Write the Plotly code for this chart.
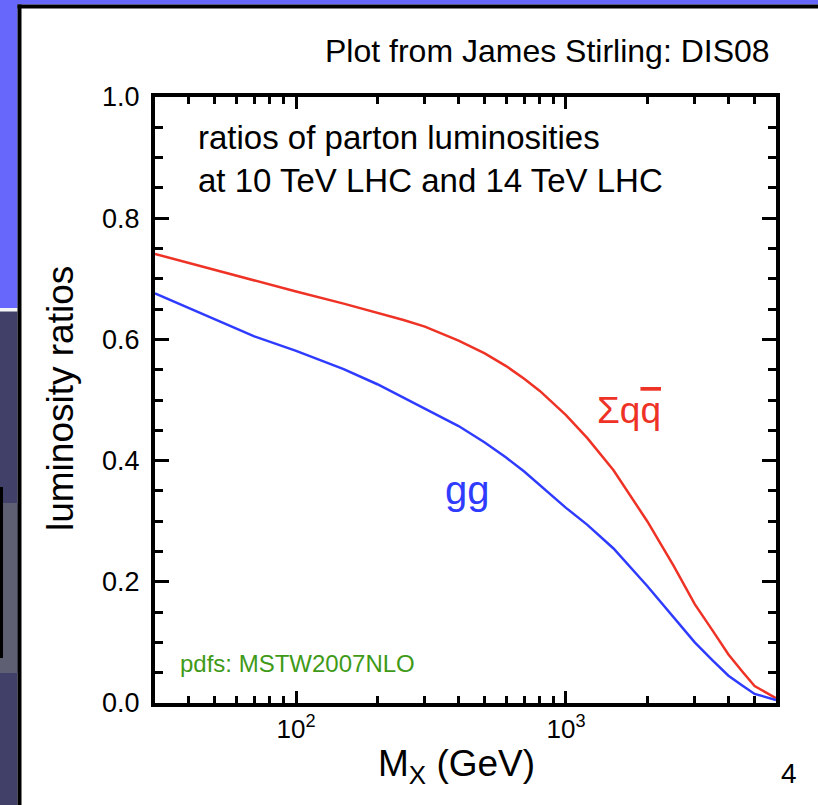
import plotly.graph_objects as go

# ---- data ----
mass_gev = [30, 40, 50, 70, 100, 150, 200, 250, 300, 400, 500, 600, 700, 800, 1000, 1200, 1500,
            2000, 2500, 3000, 3500, 4000, 4500, 5000, 6000]
ratio_qqbar = [0.741, 0.726, 0.714, 0.697, 0.679, 0.659, 0.644, 0.632, 0.621, 0.598, 0.577, 0.556,
               0.535, 0.515, 0.475, 0.437, 0.384, 0.300, 0.227, 0.163, 0.119, 0.080, 0.052, 0.028, 0.008]
ratio_gg = [0.676, 0.652, 0.633, 0.605, 0.581, 0.551, 0.526, 0.504, 0.486, 0.457, 0.430, 0.405,
            0.382, 0.360, 0.322, 0.294, 0.255, 0.193, 0.142, 0.100, 0.070, 0.045, 0.029, 0.015, 0.005]

x_major_vals = [100, 1000]
x_major_text = ["10<sup>2</sup>", "10<sup>3</sup>"]
x_minor_vals = [40, 50, 60, 70, 80, 90, 200, 300, 400, 500, 600, 700, 800, 900, 2000, 3000, 4000, 5000]
y_major_vals = [0.0, 0.2, 0.4, 0.6, 0.8, 1.0]
y_minor_vals = [0.05, 0.1, 0.15, 0.25, 0.3, 0.35, 0.45, 0.5, 0.55, 0.65, 0.7, 0.75, 0.85, 0.9, 0.95]

# ---- layout geometry ----
W, H = 818, 805
ML, MR, MT, MB = 155, 42, 97, 102
PW, PH = W - ML - MR, H - MT - MB

def px(x):
    return (x - ML) / PW

def py(y):
    return 1 - (y - MT) / PH

FONT = "Liberation Sans, Arial, Helvetica, sans-serif"
RED = "#ee3326"
BLUE = "#2f3cff"
GREEN = "#3f9a18"

fig = go.Figure()
fig.add_trace(go.Scatter(x=mass_gev, y=ratio_qqbar, mode="lines",
                         line=dict(color=RED, width=2.5), showlegend=False))
fig.add_trace(go.Scatter(x=mass_gev, y=ratio_gg, mode="lines",
                         line=dict(color=BLUE, width=2.5), showlegend=False))

# slide background decorations
def rect(x0, y0, x1, y1, color):
    return dict(type="rect", xref="paper", yref="paper", x0=px(x0), x1=px(x1),
                y0=py(y1), y1=py(y0), fillcolor=color, line=dict(width=0), layer="below")

shapes = [
    rect(0, 0, W, 4.5, "#6767fb"),
    rect(0, 0, 17.5, 308, "#6767fb"),
    rect(0, 308, 17.5, 311.5, "#f4f4f4"),
    rect(0, 311.5, 17.5, H, "#404068"),
    rect(0, 503, 17.5, 673, "#5f5f74"),
    rect(0, 487, 3, 658, "#000000"),
    rect(17.5, 4.5, W, 8.5, "#000000"),
    rect(17.5, 4.5, 21.5, H, "#000000"),
]

annotations = [
    dict(text="Plot from James Stirling: DIS08", x=px(772), y=py(71), xref="paper", yref="paper",
         xanchor="right", yanchor="bottom", showarrow=False, font=dict(size=32, color="black", family=FONT)),
    dict(text="ratios of parton luminosities<br>at 10 TeV LHC and 14 TeV LHC", x=px(196), y=py(117),
         xref="paper", yref="paper", xanchor="left", yanchor="top", align="left", showarrow=False,
         font=dict(size=33, color="black", family=FONT)),
    dict(text="gg", x=px(467), y=py(490), xref="paper", yref="paper", xanchor="center", yanchor="middle",
         showarrow=False, font=dict(size=40, color=BLUE, family=FONT)),
    dict(text="Σq<span style=\"text-decoration:overline\">q</span>", x=px(629), y=py(410), xref="paper", yref="paper",
         xanchor="center", yanchor="middle", showarrow=False, font=dict(size=37, color=RED, family=FONT)),
    dict(text="pdfs: MSTW2007NLO", x=px(178), y=py(663), xref="paper", yref="paper",
         xanchor="left", yanchor="middle", showarrow=False, font=dict(size=24, color=GREEN, family=FONT)),
    dict(text="M<sub>X</sub> (GeV)", x=px(456), y=py(766), xref="paper", yref="paper",
         xanchor="center", yanchor="middle", showarrow=False, font=dict(size=37, color="black", family=FONT)),
    dict(text="luminosity ratios", x=px(60), y=py(398), xref="paper", yref="paper", textangle=-90,
         xanchor="center", yanchor="middle", showarrow=False, font=dict(size=37, color="black", family=FONT)),
    dict(text="4", x=px(789), y=py(773), xref="paper", yref="paper",
         xanchor="center", yanchor="middle", showarrow=False, font=dict(size=28, color="black", family=FONT)),
]

fig.update_layout(
    width=W, height=H,
    margin=dict(l=ML, r=MR, t=MT, b=MB, pad=0),
    paper_bgcolor="white", plot_bgcolor="white",
    font=dict(family=FONT, color="black"),
    shapes=shapes, annotations=annotations,
)
fig.update_xaxes(type="log", range=[1.4771, 3.7782], showgrid=False, zeroline=False,
                 showline=True, linecolor="black", linewidth=4, mirror="ticks",
                 ticks="inside", ticklen=12, tickwidth=3, tickcolor="black",
                 tickmode="array", tickvals=x_major_vals, ticktext=x_major_text,
                 tickfont=dict(size=26, family=FONT, color="black"),
                 minor=dict(tickmode="array", tickvals=x_minor_vals, ticks="inside",
                            ticklen=7, tickwidth=3, tickcolor="black", showgrid=False))
fig.update_yaxes(range=[0, 1], showgrid=False, zeroline=False,
                 showline=True, linecolor="black", linewidth=4, mirror="ticks",
                 ticks="inside", ticklen=14, tickwidth=3, tickcolor="black",
                 tickmode="array", tickvals=y_major_vals, tickformat=".1f",
                 ticklabelstandoff=6,
                 tickfont=dict(size=27, family=FONT, color="black"),
                 minor=dict(tickmode="array", tickvals=y_minor_vals, ticks="inside",
                            ticklen=8, tickwidth=3, tickcolor="black", showgrid=False))

fig.write_html("out.html", config={"displayModeBar": False},
               post_script="document.body.style.margin='0';document.body.style.overflow='hidden';")
